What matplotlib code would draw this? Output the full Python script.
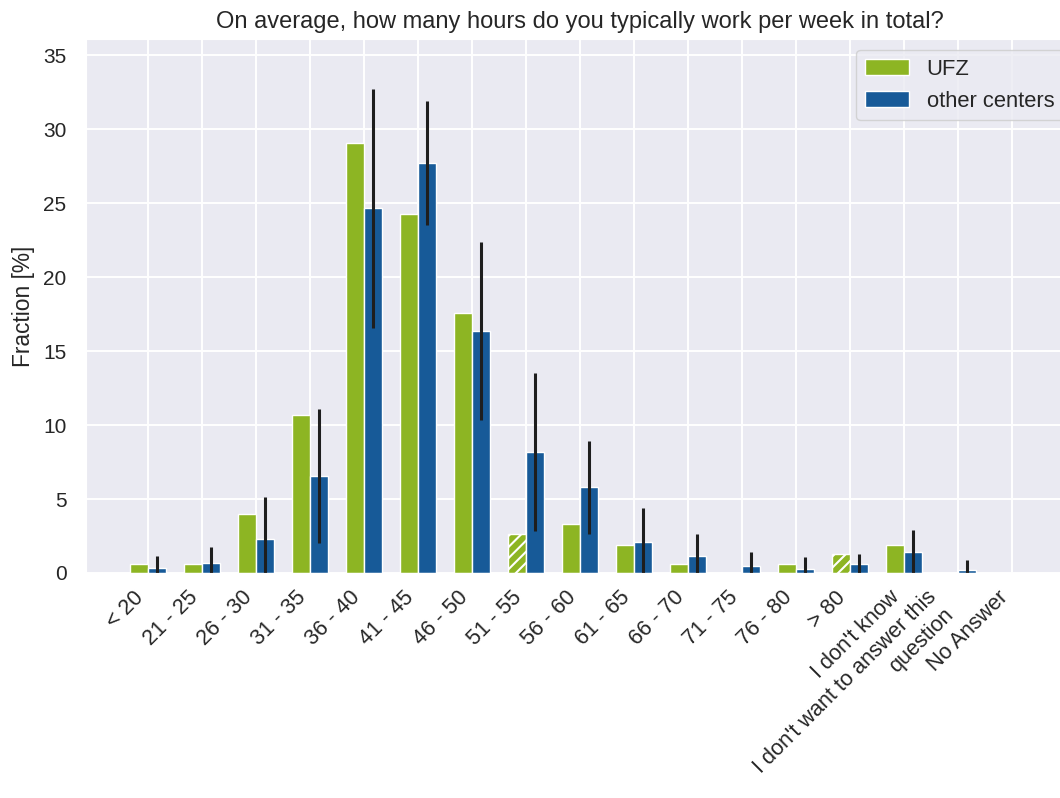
import numpy as np
import seaborn as sns
from matplotlib import pyplot as plt

categories = ["< 20", "21 - 25", "26 - 30", "31 - 35", "36 - 40", "41 - 45",
              "46 - 50", "51 - 55", "56 - 60", "61 - 65", "66 - 70", "71 - 75",
              "76 - 80", "> 80", "I don't know",
              "I don't want to answer this\nquestion", "No Answer"]

ufz = [0.6, 0.6, 4.0, 10.7, 29.05, 24.25, 17.6, 2.65, 3.3, 1.9, 0.6, 0.0,
       0.6, 1.3, 1.9, 0.0, 0.0]
# hatched UFZ bars (small sample)
ufz_hatched = [False] * 7 + [True] + [False] * 5 + [True] + [False] * 3

other = [0.37, 0.65, 2.3, 6.55, 24.65, 27.7, 16.35, 8.2, 5.8, 2.12, 1.17,
         0.47, 0.27, 0.6, 1.4, 0.2, 0.0]
other_err = [0.8, 1.1, 2.85, 4.55, 8.1, 4.2, 6.0, 5.35, 3.15, 2.3, 1.45,
             0.95, 0.8, 0.7, 1.5, 0.7, 0.0]

sns.set_style("darkgrid")
plt.rcParams['font.family'] = ['Liberation Sans', 'DejaVu Sans']
plt.rcParams['hatch.linewidth'] = 1.5

green = "#8db523"
blue = "#175a98"

fig = plt.figure(figsize=(10.6, 7.98), dpi=100)
ax = fig.add_axes([86 / 1060, 1 - 573 / 798, (1074 - 86) / 1060, (573 - 39) / 798])

x = np.arange(len(categories))
w = 1 / 3
bars = ax.bar(x - w / 2, ufz, w, color=green, edgecolor="white", linewidth=1, label="UFZ")
for b, h in zip(bars, ufz_hatched):
    if h:
        b.set_hatch("///")
ax.bar(x + w / 2, other, w, color=blue, edgecolor="white", linewidth=1, label="other centers")
ax.errorbar(x + w / 2, other, yerr=other_err, fmt="none", ecolor="#1e1e1e",
            elinewidth=2.2, capsize=0)

ax.grid(True, color="white", linewidth=1.4)
ax.set_axisbelow(True)
ax.set_xlim(-1.15, 17.15)
ax.set_ylim(0, 36.1)
ax.set_xticks(x)
ax.set_xticklabels(categories, rotation=45, ha="right")
ax.set_yticks([0, 5, 10, 15, 20, 25, 30, 35])
ax.tick_params(axis="both", length=0, colors="#262626")
ax.tick_params(axis="y", labelsize=15, pad=14)
ax.tick_params(axis="x", labelsize=15.6, pad=10)
ax.set_ylabel("Fraction [%]", fontsize=16.4, color="#262626", labelpad=6)
ax.set_title("On average, how many hours do you typically work per week in total?",
             fontsize=17, color="#262626", pad=8)
ax.legend(loc="upper right", fontsize=15.8)

plt.savefig("out.png")
